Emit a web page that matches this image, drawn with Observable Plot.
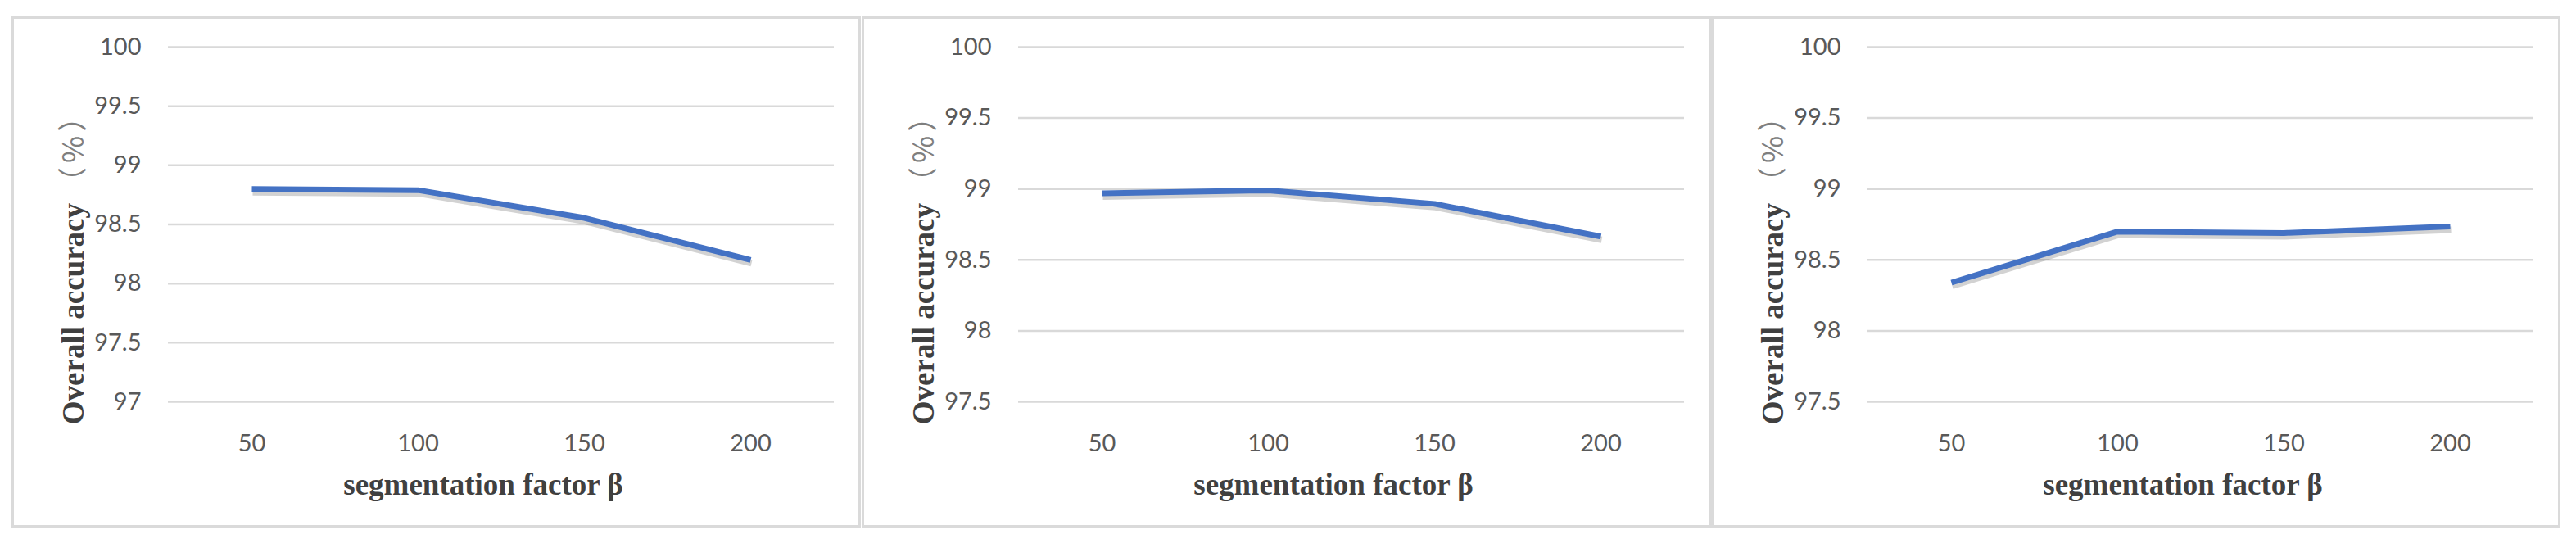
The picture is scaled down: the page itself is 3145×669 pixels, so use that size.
<!DOCTYPE html>
<html>
<head>
<meta charset="utf-8">
<script src="https://cdn.jsdelivr.net/npm/d3@7"></script>
<script src="https://cdn.jsdelivr.net/npm/@observablehq/plot@0.6"></script>
<style>
  html, body { margin: 0; padding: 0; background: #ffffff; }
  #wrap { position: relative; width: 3145px; height: 669px; background: #ffffff; }
  .panel { position: absolute; top: 21px; }
  .panel svg { display: block; outline: 3px solid #dadada; outline-offset: -2px; }
</style>
</head>
<body>
<div id="wrap"></div>
<script>
// ---- data ----
const factors = [50, 100, 150, 200];
const accuracyA = [98.80, 98.79, 98.555, 98.20];
const accuracyB = [98.97, 98.99, 98.895, 98.665];
const accuracyC = [98.34, 98.70, 98.69, 98.735];
const yTicksA = [97, 97.5, 98, 98.5, 99, 99.5, 100];
const yTicksBC = [97.5, 98, 98.5, 99, 99.5, 100];
const xTitle = "segmentation factor β";
const yTitleMain = "Overall accuracy";
const yTitleUnit = "（%）";

const panels = [
  {left: 15, values: accuracyA, domain: [97, 100], ticks: yTicksA},
  {left: 1053, values: accuracyB, domain: [97.5, 100], ticks: yTicksBC},
  {left: 2090, values: accuracyC, domain: [97.5, 100], ticks: yTicksBC}
];

const wrap = document.getElementById("wrap");

for (const p of panels) {
  const data = factors.map((f, i) => ({f, v: p.values[i]}));
  const chart = Plot.plot({
    width: 1035,
    height: 622,
    marginTop: 36,
    marginBottom: 153,
    marginLeft: 190,
    marginRight: 32,
    style: {fontFamily: "Lato, 'Liberation Sans', sans-serif", fontSize: "28px", color: "#595959", background: "#ffffff", overflow: "visible"},
    x: {type: "point", domain: factors, padding: 0.5, label: null},
    y: {domain: p.domain, label: null},
    marks: [
      Plot.gridY(p.ticks, {stroke: "#d9d9d9", strokeWidth: 2.5, strokeOpacity: 1}),
      Plot.axisY(p.ticks, {tickSize: 0, tickPadding: 33, label: null, fill: "#595959", fontSize: 29, tickFormat: d => String(d)}),
      Plot.axisX(factors, {tickSize: 0, tickPadding: 40, label: null, fill: "#595959", fontSize: 29, tickFormat: d => String(d)}),
      Plot.line(data, {x: "f", y: "v", stroke: "#6b6b6b", strokeOpacity: 0.3, strokeWidth: 8, dx: 1, dy: 4, strokeLinecap: "butt"}),
      Plot.line(data, {x: "f", y: "v", stroke: "#4472C4", strokeWidth: 7, strokeLinecap: "butt", strokeLinejoin: "miter"}),
      Plot.text([xTitle], {frameAnchor: "bottom", lineAnchor: "middle", textAnchor: "middle", dx: -22, dy: 102, text: d => d, fill: "#404040", fontSize: 37, fontWeight: "bold", fontFamily: "'Liberation Serif', 'DejaVu Serif', serif"}),
      Plot.text([yTitleMain + yTitleUnit], {frameAnchor: "left", textAnchor: "middle", lineAnchor: "middle", dx: -115, dy: 45, rotate: -90, text: d => d, fill: "#404040", fontSize: 37, fontWeight: "bold", fontFamily: "'Liberation Serif', 'DejaVu Serif', serif"})
    ]
  });
  // style the y title: bold main part + lighter unit
  d3.select(chart).selectAll("text").each(function() {
    const t = d3.select(this);
    if (t.text() === yTitleMain + yTitleUnit) {
      t.text(null);
      t.append("tspan").text(yTitleMain);
      t.append("tspan").text(yTitleUnit)
        .attr("dx", 8)
        .attr("letter-spacing", 5)
        .attr("font-weight", "normal")
        .attr("fill", "#7f7f7f")
        .attr("font-size", 36)
        .attr("font-family", "'Noto Sans CJK SC', sans-serif");
    }
  });
  const div = document.createElement("div");
  div.className = "panel";
  div.style.left = p.left + "px";
  div.appendChild(chart);
  wrap.appendChild(div);
}
</script>
</body>
</html>
